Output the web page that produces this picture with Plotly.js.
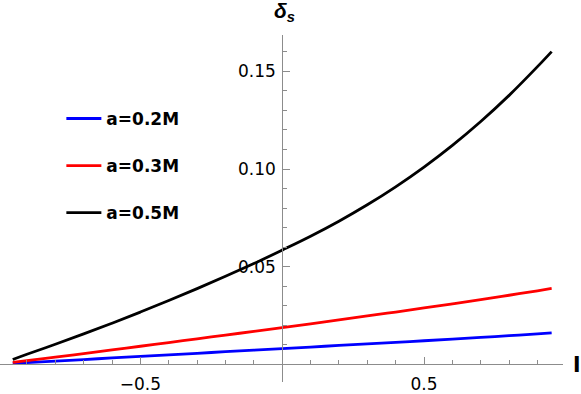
<!DOCTYPE html>
<html>
<head>
<meta charset="utf-8">
<script src="https://cdn.plot.ly/plotly-3.0.1.min.js"></script>
<style>
  html, body { margin: 0; padding: 0; background: #fff; }
  #myPlot { width: 581px; height: 394px; }
</style>
</head>
<body>
<div id="myPlot"></div>
<script>
// l values (same for all three curves)
var lValues = [-0.95, -0.9, -0.8, -0.7, -0.6, -0.5, -0.4, -0.3, -0.2, -0.1, 0,
               0.1, 0.2, 0.3, 0.4, 0.5, 0.6, 0.7, 0.8, 0.9, 0.95];

// delta_s
var deltaA02 = [0.0005, 0.0009, 0.0017, 0.0025, 0.0033, 0.0041, 0.0049, 0.0057, 0.0065, 0.0073, 0.0081,
                0.0089, 0.0097, 0.0105, 0.0113, 0.0121, 0.0129, 0.0138, 0.0147, 0.0156, 0.0161];
var deltaA03 = [0.0010, 0.0019, 0.0037, 0.0055, 0.0074, 0.0093, 0.0112, 0.0131, 0.0150, 0.0169, 0.0188,
                0.0208, 0.0228, 0.0248, 0.0268, 0.0289, 0.0310, 0.0332, 0.0354, 0.0377, 0.0389];
var deltaA05 = [0.0025, 0.0052, 0.0103, 0.0156, 0.0211, 0.0268, 0.0327, 0.0388, 0.0451, 0.0516, 0.0585,
                0.0656, 0.0733, 0.0817, 0.0909, 0.1010, 0.1121, 0.1243, 0.1377, 0.1524, 0.1601];

var seriesNames = ["a=0.2M", "a=0.3M", "a=0.5M"];
var seriesColors = ["#0000ff", "#ff0000", "#000000"];

var xTickVals = [-0.5, 0.5];
var xTickText = ["\u22120.5", "0.5"];
var yTickVals = [0.05, 0.10, 0.15];
var yTickText = ["0.05", "0.10", "0.15"];

var xRange = [-0.995, 0.99];
var yRange = [-0.009, 0.1686];

var axisGray = "#8c8c8c";
var fontFam = "DejaVu Sans, Verdana, sans-serif";

var ys = [deltaA02, deltaA03, deltaA05];
var data = [];
for (var i = 0; i < ys.length; i++) {
    data.push({
        x: lValues,
        y: ys[i],
        name: seriesNames[i],
        legendgroup: "g" + i,
        mode: "lines",
        line: { color: seriesColors[i], width: 2.8, shape: "spline" }
    });
}

// where the axes cross (data 0,0) in paper fractions
var xAxisPos = (0 - yRange[0]) / (yRange[1] - yRange[0]);
var yAxisPos = (0 - xRange[0]) / (xRange[1] - xRange[0]);

var layout = {
    width: 581,
    height: 394,
    margin: { l: 0, r: 18, t: 35, b: 12 },
    paper_bgcolor: "#fff",
    plot_bgcolor: "#fff",
    font: { family: fontFam, size: 17, color: "#000" },
    showlegend: true,
    legend: {
        x: 0.109, y: 0.81, xanchor: "left", yanchor: "top",
        bgcolor: "rgba(0,0,0,0)",
        font: { family: fontFam, size: 17, weight: "bold", color: "#000" },
        itemwidth: 35,
        tracegroupgap: 22
    },
    xaxis: {
        range: xRange,
        anchor: "free",
        position: xAxisPos,
        showgrid: false,
        zeroline: false,
        showline: true,
        linecolor: axisGray,
        linewidth: 1,
        ticks: "inside",
        ticklen: 7,
        tickcolor: axisGray,
        tickmode: "array",
        tickvals: xTickVals,
        ticktext: xTickText,
        ticklabelstandoff: 4,
        minor: { tickmode: "linear", tick0: 0, dtick: 0.1, ticks: "inside", ticklen: 4, tickcolor: axisGray },
        fixedrange: true
    },
    yaxis: {
        range: yRange,
        anchor: "free",
        position: yAxisPos,
        showgrid: false,
        zeroline: false,
        showline: true,
        linecolor: axisGray,
        linewidth: 1,
        ticks: "inside",
        ticklen: 7,
        tickcolor: axisGray,
        tickmode: "array",
        tickvals: yTickVals,
        ticktext: yTickText,
        ticklabelstandoff: 3,
        minor: { tickmode: "linear", tick0: 0, dtick: 0.01, ticks: "inside", ticklen: 4, tickcolor: axisGray },
        fixedrange: true
    },
    annotations: [
        {   // x axis label
            text: "<b>l</b>", xref: "paper", yref: "paper",
            x: 1.0255, y: xAxisPos, xanchor: "center", yanchor: "middle",
            showarrow: false, font: { family: fontFam, size: 22, color: "#000" }
        },
        {   // y axis label
            text: "<b><i>\u03b4<sub>s</sub></i></b>", xref: "paper", yref: "paper",
            x: yAxisPos, y: 1.0, xanchor: "center", yanchor: "bottom", yshift: 8, xshift: 2,
            showarrow: false, font: { family: "Liberation Sans, Arial, sans-serif", size: 21, color: "#000" }
        }
    ]
};

Plotly.newPlot("myPlot", data, layout, { staticPlot: true, displayModeBar: false });
</script>
</body>
</html>
